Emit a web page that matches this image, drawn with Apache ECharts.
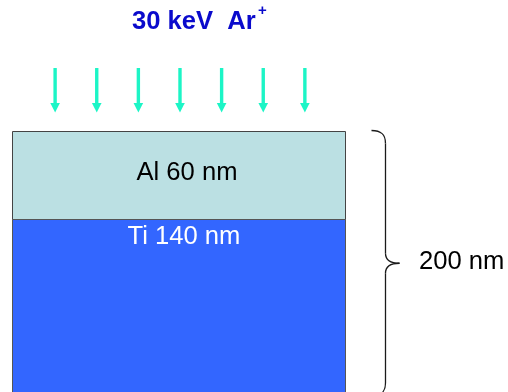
<!DOCTYPE html>
<html>
<head>
<meta charset="utf-8">
<script src="https://cdn.jsdelivr.net/npm/echarts@6/dist/echarts.min.js"></script>
<style>
html,body{margin:0;padding:0;background:#fff;}
#chart{width:508px;height:392px;}
</style>
</head>
<body>
<div id="chart"></div>
<script>
// ---- data ----
const layerNames = ['Al 60 nm', 'Ti 140 nm'];
const layerThickness = [60, 140];          // nm
const arrowPositions = [12.5, 25, 37.5, 50, 62.5, 75, 87.5]; // % of sample width
const braceRange = [0, 180];               // depth range covered by brace (nm, schematic)
const braceLabel = '200 nm';
const beamLabel = '30 keV  Ar';
const beamCharge = '+';

// ---- styles ----
const layerFill = ['#BBE0E3', '#3366FF'];
const layerStroke = ['#444444', '#555555'];
const layerTextColor = ['#000000', '#FFFFFF'];
const arrowColor = '#1CF5C6';
const FONT = 'Liberation Sans, Arial, sans-serif';
const FS = '25.6px ';

// layer bounds built from thicknesses
const layerData = [];
let depth = 0;
layerThickness.forEach((t, i) => {
  layerData.push([i, depth, depth + t]);
  depth += t;
});

const chart = echarts.init(document.getElementById('chart'), null, {renderer: 'canvas'});

const option = {
  animation: false,
  grid: {left: 0, right: 0, top: 0, bottom: 0},
  xAxis: {type: 'value', min: -3.75, max: 148.8, show: false},
  yAxis: {type: 'value', min: -88.5, max: 177.3, inverse: true, show: false},
  graphic: [
    {type: 'text', left: 132, top: 9,
     style: {text: beamLabel, font: 'bold ' + FS + FONT, fill: '#0A0ACC'}},
    {type: 'text', left: 258, top: 3,
     style: {text: beamCharge, font: 'bold 15px ' + FONT, fill: '#0A0ACC'}}
  ],
  series: [
    {
      type: 'custom',
      data: layerData,
      clip: false,
      renderItem: function (params, api) {
        const i = api.value(0);
        const p0 = api.coord([0, api.value(1)]);
        const p1 = api.coord([100, api.value(2)]);
        const cx = (p0[0] + p1[0]) / 2;
        const children = [{
          type: 'rect',
          shape: {x: Math.round(p0[0]) + 0.5, y: Math.round(p0[1]) + 0.5,
                  width: Math.round(p1[0] - p0[0]), height: Math.round(p1[1] - p0[1])},
          style: {fill: layerFill[i], stroke: layerStroke[i], lineWidth: 1}
        }];
        const ty = i === 0 ? (p0[1] + p1[1]) / 2 - 2 : p0[1] + 17.5;
        children.push({
          type: 'text',
          style: {text: layerNames[i], x: cx + (i === 0 ? 8 : 5), y: ty,
                  font: FS + FONT, fill: layerTextColor[i],
                  align: 'center', verticalAlign: 'middle'}
        });
        return {type: 'group', children: children};
      }
    },
    {
      type: 'custom',
      data: arrowPositions.map(v => [v]),
      clip: false,
      renderItem: function (params, api) {
        const p = api.coord([api.value(0), 0]);
        const x = p[0] + 1;
        const tip = p[1] - 18;
        const headLen = 9.5, headW = 4.8, shaftLen = 35, shaftW = 1.7;
        return {
          type: 'group',
          children: [
            {type: 'rect',
             shape: {x: x - shaftW, y: tip - headLen - shaftLen, width: shaftW * 2, height: shaftLen + 1},
             style: {fill: arrowColor}},
            {type: 'polygon',
             shape: {points: [[x - headW, tip - headLen], [x + headW, tip - headLen], [x, tip]]},
             style: {fill: arrowColor}}
          ]
        };
      }
    },
    {
      type: 'custom',
      data: [braceRange],
      clip: false,
      renderItem: function (params, api) {
        const a = api.coord([100, api.value(0)]);
        const b = api.coord([100, api.value(1)]);
        const x0 = a[0] + 26, xv = a[0] + 40, xt = a[0] + 54;
        const y0 = a[1], y1 = b[1], ym = (y0 + y1) / 2;
        const st = {stroke: '#1a1a1a', lineWidth: 1.3, fill: null};
        return {
          type: 'group',
          children: [
            {type: 'bezierCurve', shape: {x1: x0, y1: y0, cpx1: x0 + 10, cpy1: y0, cpx2: xv, cpy2: y0 + 4, x2: xv, y2: y0 + 13}, style: st},
            {type: 'line', shape: {x1: xv, y1: y0 + 13, x2: xv, y2: ym - 10}, style: st},
            {type: 'bezierCurve', shape: {x1: xv, y1: ym - 10, cpx1: xv, cpy1: ym - 3, cpx2: xt - 8, cpy2: ym, x2: xt, y2: ym}, style: st},
            {type: 'bezierCurve', shape: {x1: xt, y1: ym, cpx1: xt - 8, cpy1: ym, cpx2: xv, cpy2: ym + 3, x2: xv, y2: ym + 10}, style: st},
            {type: 'line', shape: {x1: xv, y1: ym + 10, x2: xv, y2: y1 - 13}, style: st},
            {type: 'bezierCurve', shape: {x1: xv, y1: y1 - 13, cpx1: xv, cpy1: y1 - 4, cpx2: x0 + 10, cpy2: y1, x2: x0, y2: y1}, style: st},
            {type: 'text',
             style: {text: braceLabel, x: a[0] + 73.5, y: ym - 1, font: FS + FONT,
                     fill: '#000', align: 'left', verticalAlign: 'middle'}}
          ]
        };
      }
    }
  ]
};
chart.setOption(option);
</script>
</body>
</html>
